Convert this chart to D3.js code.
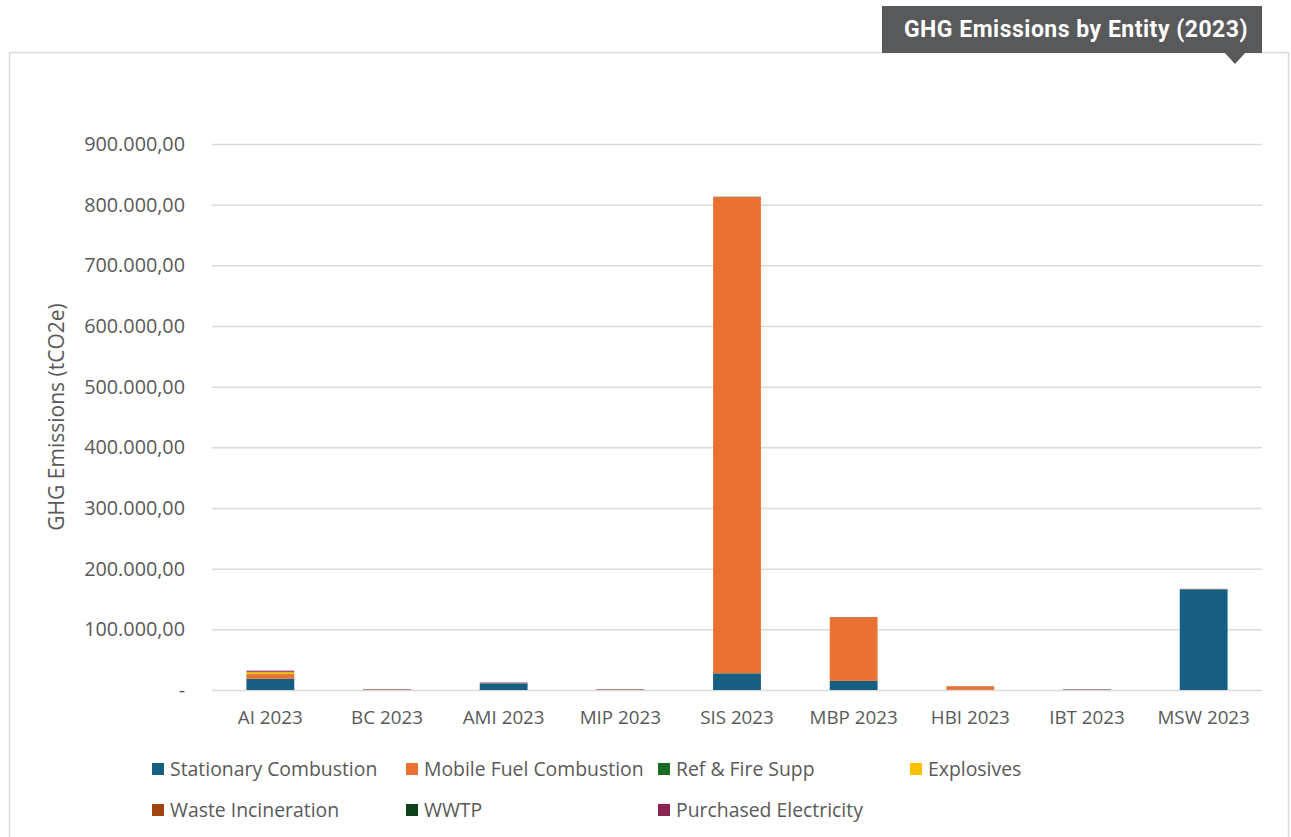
<!DOCTYPE html>
<html>
<head>
<meta charset="utf-8">
<script src="https://cdn.jsdelivr.net/npm/d3@7"></script>
<style>
  body { margin: 0; background: #fff; }
  text { font-family: "Open Sans", "Noto Sans", sans-serif; }
</style>
</head>
<body>
<div class="chart"></div>
<script>
var entities = ["AI 2023", "BC 2023", "AMI 2023", "MIP 2023", "SIS 2023", "MBP 2023", "HBI 2023", "IBT 2023", "MSW 2023"];
var sources = ["Stationary Combustion", "Mobile Fuel Combustion", "Ref & Fire Supp", "Explosives", "Waste Incineration", "WWTP", "Purchased Electricity"];
var sourceColors = ["#156082", "#e97132", "#196b24", "#ffc000", "#a0430f", "#0f4119", "#8b2450"];

// tCO2e per source, one entry per entity
var stationary = [18500, 300, 11000, 400, 27500, 15000, 300, 400, 166000];
var mobile = [7500, 700, 400, 600, 785000, 105000, 5800, 500, 400];
var refFire = [300, 50, 50, 50, 200, 100, 50, 50, 50];
var explosives = [3000, 0, 0, 0, 0, 0, 0, 0, 0];
var wasteIncin = [900, 0, 0, 0, 0, 0, 0, 0, 0];
var wwtp = [100, 50, 50, 50, 100, 50, 0, 50, 50];
var purchasedElec = [1600, 400, 700, 400, 300, 200, 100, 400, 200];

var yTicks = [0, 100000, 200000, 300000, 400000, 500000, 600000, 700000, 800000, 900000];

var svgWidth = 1291;
var svgHeight = 837;
var margin = { top: 144, right: 29, bottom: 147, left: 212 };
var width = svgWidth - margin.left - margin.right;
var height = svgHeight - margin.top - margin.bottom;

var svg = d3.select(".chart")
  .append("svg")
  .attr("width", svgWidth)
  .attr("height", svgHeight);

// outer frame
svg.append("rect")
  .attr("x", 9.5)
  .attr("y", 52.5)
  .attr("width", 1279)
  .attr("height", 820)
  .attr("fill", "none")
  .attr("stroke", "#d9d9d9")
  .attr("stroke-width", 1.5);

// title badge
svg.append("rect")
  .attr("x", 882)
  .attr("y", 6)
  .attr("width", 380)
  .attr("height", 47)
  .attr("fill", "#58595b");

svg.append("path")
  .attr("d", "M1224,52 L1246,52 L1235,64 Z")
  .attr("fill", "#58595b");

svg.append("text")
  .attr("x", 1076)
  .attr("y", 37)
  .attr("text-anchor", "middle")
  .style("font-family", "Roboto, sans-serif")
  .style("font-weight", "bold")
  .style("font-size", "23px")
  .style("letter-spacing", "0.5px")
  .style("fill", "#ffffff")
  .text("GHG Emissions by Entity (2023)");

var chartGroup = svg.append("g")
  .attr("transform", `translate(${margin.left}, ${margin.top})`);

var table = entities.map(function(e, i) {
  return {
    entity: e,
    "Stationary Combustion": stationary[i],
    "Mobile Fuel Combustion": mobile[i],
    "Ref & Fire Supp": refFire[i],
    "Explosives": explosives[i],
    "Waste Incineration": wasteIncin[i],
    "WWTP": wwtp[i],
    "Purchased Electricity": purchasedElec[i]
  };
});

var stacked = d3.stack().keys(sources)(table);

var xBandScale = d3.scaleBand()
  .domain(entities)
  .range([0, width])
  .paddingInner(0.59)
  .paddingOuter(0.295);

var yLinearScale = d3.scaleLinear()
  .domain([0, 900000])
  .range([height, 0]);

var color = d3.scaleOrdinal().domain(sources).range(sourceColors);

var fmt = d3.formatLocale({ decimal: ",", thousands: ".", grouping: [3], currency: ["", ""] }).format(",.2f");

// gridlines
chartGroup.append("g")
  .selectAll("line")
  .data(yTicks)
  .enter()
  .append("line")
  .attr("x1", 0)
  .attr("x2", width)
  .attr("y1", d => yLinearScale(d) + 0.5)
  .attr("y2", d => yLinearScale(d) + 0.5)
  .attr("stroke", "#d9d9d9")
  .attr("stroke-width", 1.5);

// y axis labels
var leftAxis = d3.axisLeft(yLinearScale)
  .tickValues(yTicks)
  .tickSize(0)
  .tickPadding(27)
  .tickFormat(d => d === 0 ? "-" : fmt(d));

var yAxisG = chartGroup.append("g").call(leftAxis);
yAxisG.select(".domain").remove();
yAxisG.selectAll("text")
  .style("font-size", "19.8px")
  .style("font-family", "'Open Sans', sans-serif")
  .style("fill", "#595959");

// bars
chartGroup.append("g")
  .selectAll("g")
  .data(stacked)
  .enter()
  .append("g")
  .attr("fill", d => color(d.key))
  .selectAll("rect")
  .data(d => d)
  .enter()
  .append("rect")
  .attr("x", d => xBandScale(d.data.entity))
  .attr("y", d => yLinearScale(d[1]))
  .attr("width", xBandScale.bandwidth())
  .attr("height", d => Math.max(0, yLinearScale(d[0]) - yLinearScale(d[1])));

// x axis labels
var bottomAxis = d3.axisBottom(xBandScale).tickSize(0).tickPadding(21);
var xAxisG = chartGroup.append("g")
  .attr("transform", `translate(0, ${height})`)
  .call(bottomAxis);
xAxisG.select(".domain").remove();
xAxisG.selectAll("text")
  .style("font-size", "18.8px")
  .style("font-family", "'Open Sans', sans-serif")
  .style("fill", "#595959");

// y axis title
chartGroup.append("text")
  .attr("transform", "rotate(-90)")
  .attr("x", 0 - (height / 2))
  .attr("y", 0 - margin.left + 64)
  .attr("text-anchor", "middle")
  .style("font-size", "21px")
  .style("fill", "#595959")
  .text("GHG Emissions (tCO2e)");

// legend
var legendPos = [
  [152, 769], [406, 769], [658, 769], [910, 769],
  [152, 810], [406, 810], [658, 810]
];

var legend = svg.append("g")
  .selectAll("g")
  .data(sources)
  .enter()
  .append("g")
  .attr("transform", (d, i) => `translate(${legendPos[i][0]}, ${legendPos[i][1]})`);

legend.append("rect")
  .attr("x", 0)
  .attr("y", -6)
  .attr("width", 12)
  .attr("height", 12)
  .attr("fill", d => color(d));

legend.append("text")
  .attr("x", 18)
  .attr("y", 7)
  .style("font-size", "19.4px")
  .style("fill", "#595959")
  .text(d => d);
</script>
</body>
</html>
